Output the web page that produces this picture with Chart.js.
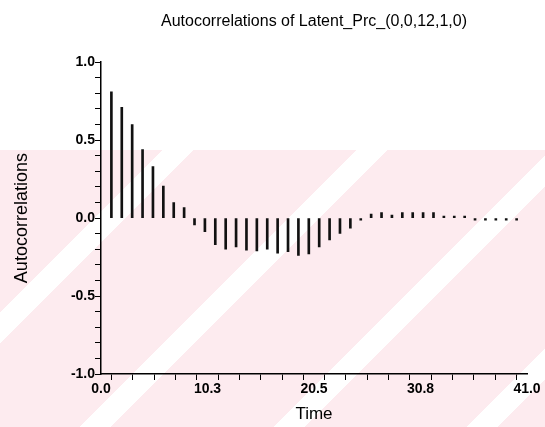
<!DOCTYPE html>
<html>
<head>
<meta charset="utf-8">
<title>Autocorrelations of Latent_Prc_</title>
<script src="https://cdn.jsdelivr.net/npm/chart.js@4.4.0/dist/chart.umd.min.js"></script>
<style>
  html, body { margin: 0; padding: 0; background: #fff; }
  #wrap { position: relative; width: 545px; height: 427px; overflow: hidden; }
  /* faint diagonal watermark behind the plot */
  #watermark {
    position: absolute; left: 0; top: 150px; width: 545px; height: 277px;
    background: repeating-linear-gradient(135deg, #fdebef 0px, #fdebef 115px, #ffffff 115px, #ffffff 137px);
  }
  canvas { position: absolute; left: 0; top: 0; }
</style>
</head>
<body>
<div id="wrap">
  <div id="watermark"></div>
  <canvas id="acfChart" width="545" height="427"></canvas>
</div>
<script>
// --- DATOS ---
const lags = [1, 2, 3, 4, 5, 6, 7, 8, 9, 10,
              11, 12, 13, 14, 15, 16, 17, 18, 19, 20,
              21, 22, 23, 24, 25, 26, 27, 28, 29, 30,
              31, 32, 33, 34, 35, 36, 37, 38, 39, 40];

const autocorrelations = [0.81, 0.71, 0.60, 0.44, 0.33, 0.205, 0.10, 0.067, -0.043, -0.087,
                          -0.17, -0.20, -0.185, -0.205, -0.21, -0.20, -0.225, -0.215, -0.24, -0.23,
                          -0.185, -0.14, -0.098, -0.065, -0.006, 0.025, 0.035, 0.02, 0.035, 0.035,
                          0.035, 0.035, 0.005, 0.003, 0.002, -0.008, -0.008, -0.01, -0.006, -0.012];

const xTickLabels = ['0.0', '10.3', '20.5', '30.8', '41.0'];
const yTickLabels = ['-1.0', '-0.5', '0.0', '0.5', '1.0'];

const chartTitle = 'Autocorrelations of Latent_Prc_(0,0,12,1,0)';

// --- RENDER ---
const tickFont = { family: 'Liberation Sans', size: 14, weight: 'bold' };

new Chart(document.getElementById('acfChart'), {
    type: 'bar',
    data: {
        datasets: [{
            data: lags.map((lag, i) => ({ x: lag, y: autocorrelations[i] })),
            backgroundColor: '#111',
            borderWidth: 0,
            barThickness: 2,
            minBarLength: 2
        }]
    },
    options: {
        responsive: false,
        animation: false,
        devicePixelRatio: 1,
        layout: { padding: { left: 0, right: 18, top: 0, bottom: 0 } },
        plugins: {
            legend: { display: false },
            tooltip: { enabled: false },
            title: {
                display: true,
                text: chartTitle,
                fullSize: false,
                color: '#000',
                font: { family: 'Liberation Sans', size: 16, weight: 'normal' },
                padding: { top: 12, bottom: 31 }
            }
        },
        scales: {
            x: {
                type: 'linear',
                min: 0,
                max: 41,
                offset: false,
                grid: { drawOnChartArea: false, tickLength: 6, color: '#000', lineWidth: 1 },
                border: { color: '#000', width: 1.5 },
                ticks: {
                    stepSize: 2.05,
                    autoSkip: false,
                    maxRotation: 0,
                    color: '#000',
                    font: tickFont,
                    padding: 1,
                    callback: (value, index) => index % 5 === 0 ? xTickLabels[index / 5] : ''
                },
                title: {
                    display: true,
                    text: 'Time',
                    color: '#000',
                    font: { family: 'Liberation Sans', size: 17 },
                    padding: { top: 0, bottom: 2 }
                },
                afterFit: (scale) => { scale.height = 53; }
            },
            y: {
                min: -1,
                max: 1,
                grid: { drawOnChartArea: false, tickLength: 6, color: '#000', lineWidth: 1 },
                border: { color: '#000', width: 1.5 },
                ticks: {
                    stepSize: 0.1,
                    autoSkip: false,
                    color: '#000',
                    font: tickFont,
                    padding: 0,
                    callback: (value, index) => index % 5 === 0 ? yTickLabels[index / 5] : ''
                },
                title: {
                    display: true,
                    text: 'Autocorrelations',
                    color: '#000',
                    font: { family: 'Liberation Sans', size: 18 },
                    padding: { top: 11, bottom: 0 }
                },
                afterFit: (scale) => { scale.width = 101; }
            }
        }
    }
});
</script>
</body>
</html>
